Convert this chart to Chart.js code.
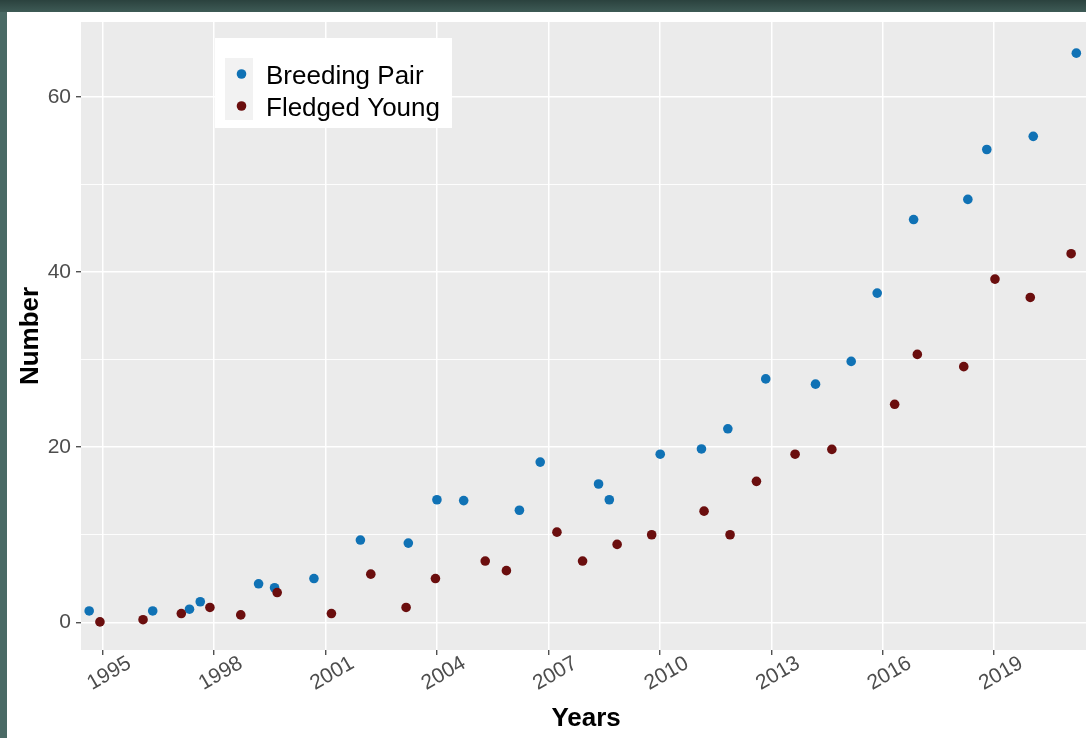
<!DOCTYPE html>
<html>
<head>
<meta charset="utf-8">
<script src="https://cdn.jsdelivr.net/npm/chart.js@4.4.1/dist/chart.umd.min.js"></script>
<style>
    html, body { margin: 0; padding: 0; }
    body { width: 1086px; height: 738px; overflow: hidden; background: #4a6a65; position: relative; }
    #topband { position: absolute; left: 0; top: 0; width: 1086px; height: 12px; background: linear-gradient(#2b423e, #3e5b56); }
    #panel { position: absolute; left: 7px; top: 12px; width: 1089px; height: 726px; background: #fff; }
</style>
</head>
<body>
<div id="topband"></div>
<div id="panel"><canvas id="birdChart" width="1089" height="726"></canvas></div>
<script>
// Breeding pairs (x = decimal year)
const breedingYears = [1994.64, 1996.35, 1997.34, 1997.63, 1999.20, 1999.63, 2000.69, 2001.94, 2003.23,
    2004.00, 2004.72, 2006.22, 2006.78, 2008.35, 2008.64, 2010.01, 2011.12, 2011.83, 2012.85,
    2014.19, 2015.15, 2015.85, 2016.83, 2018.29, 2018.80, 2020.05, 2021.21];
const breedingPairs = [1.3, 1.3, 1.5, 2.35, 4.4, 3.95, 5.0, 9.4, 9.05,
    14.0, 13.9, 12.8, 18.3, 15.8, 14.0, 19.2, 19.8, 22.1, 27.8,
    27.2, 29.8, 37.6, 46.0, 48.3, 54.0, 55.5, 65.0];

// Fledged young
const fledgedYears = [1994.93, 1996.09, 1997.12, 1997.89, 1998.72, 1999.70, 2001.16, 2002.22, 2003.17,
    2003.96, 2005.30, 2005.87, 2007.23, 2007.92, 2008.85, 2009.78, 2011.19, 2011.89, 2012.60,
    2013.64, 2014.63, 2016.32, 2016.93, 2018.18, 2019.02, 2019.97, 2021.07];
const fledgedYoung = [0.05, 0.3, 1.0, 1.7, 0.85, 3.4, 1.0, 5.5, 1.7,
    5.0, 7.0, 5.9, 10.3, 7.0, 8.9, 10.0, 12.7, 10.0, 16.1,
    19.2, 19.75, 24.9, 30.6, 29.2, 39.2, 37.1, 42.1];

const yearTicks = [1995, 1998, 2001, 2004, 2007, 2010, 2013, 2016, 2019];
const numberTicks = [0, 20, 40, 60];

const toPoints = (xs, ys) => xs.map((x, i) => ({ x: x, y: ys[i] }));

// gray ggplot-style panel behind the grid
const panelBg = {
    id: 'panelBg',
    beforeDraw(chart) {
        const { ctx, chartArea: a } = chart;
        ctx.save();
        ctx.fillStyle = '#ebebeb';
        ctx.fillRect(a.left, a.top, a.right - a.left, a.bottom - a.top);
        ctx.restore();
    }
};

// legend box inside the panel, top left
const insideLegend = {
    id: 'insideLegend',
    afterDraw(chart) {
        const ctx = chart.ctx;
        const sets = chart.data.datasets;
        ctx.save();
        ctx.fillStyle = '#ffffff';
        ctx.fillRect(208, 26, 237, 90);
        ctx.fillStyle = '#f2f2f2';
        ctx.fillRect(218, 46, 28, 62);
        ctx.font = '26px "Liberation Sans", Arial, sans-serif';
        ctx.textBaseline = 'middle';
        sets.forEach((ds, i) => {
            const y = 62 + i * 32;
            ctx.fillStyle = ds.backgroundColor;
            ctx.beginPath();
            ctx.arc(234.5, y, 4.8, 0, Math.PI * 2);
            ctx.fill();
            ctx.fillStyle = '#000000';
            ctx.fillText(ds.label, 259, y + 3);
        });
        ctx.restore();
    }
};

new Chart(document.getElementById('birdChart').getContext('2d'), {
    type: 'scatter',
    data: {
        datasets: [{
            label: 'Breeding Pair',
            data: toPoints(breedingYears, breedingPairs),
            backgroundColor: '#1072b5',
            pointRadius: 4.8,
            borderWidth: 0,
            order: 1
        }, {
            label: 'Fledged Young',
            data: toPoints(fledgedYears, fledgedYoung),
            backgroundColor: '#6b0e0e',
            pointRadius: 4.8,
            borderWidth: 0,
            order: 0
        }]
    },
    options: {
        responsive: false,
        devicePixelRatio: 1,
        animation: false,
        events: [],
        layout: { padding: { top: 10, right: 0, left: 0, bottom: 0 } },
        plugins: {
            legend: { display: false },
            tooltip: { enabled: false }
        },
        scales: {
            x: {
                type: 'linear',
                min: 1994.42,
                max: 2021.61,
                afterFit: s => { s.height = 88; s.paddingLeft = 0; s.paddingRight = 0; },
                afterBuildTicks: s => { s.ticks = yearTicks.map(v => ({ value: v })); },
                border: { display: false },
                grid: { color: '#ffffff', lineWidth: 1.5, tickColor: '#333333', tickLength: 5, tickWidth: 1.2 },
                ticks: {
                    autoSkip: false,
                    maxRotation: 30,
                    minRotation: 30,
                    labelOffset: 27,
                    padding: -4,
                    color: '#4d4d4d',
                    font: { family: '"Liberation Sans", Arial, sans-serif', size: 21 },
                    callback: v => String(v)
                },
                title: {
                    display: true,
                    text: 'Years',
                    color: '#000000',
                    font: { family: '"Liberation Sans", Arial, sans-serif', size: 26, weight: 'bold' },
                    padding: { top: 0, bottom: 4 }
                }
            },
            y: {
                min: -3.16,
                max: 68.56,
                afterFit: s => { s.width = 74; s.paddingTop = 0; s.paddingBottom = 0; },
                afterBuildTicks: s => {
                    // major ticks plus the minor lines halfway between them
                    const t = [];
                    numberTicks.forEach(v => { t.push({ value: v }); t.push({ value: v + 10, minor: true }); });
                    s.ticks = t;
                },
                border: { display: false },
                grid: {
                    color: '#ffffff',
                    lineWidth: c => (c.tick && c.tick.minor ? 0.9 : 1.5),
                    tickColor: c => (c.tick && c.tick.minor ? 'rgba(0,0,0,0)' : '#333333'),
                    tickLength: 5,
                    tickWidth: 1.2
                },
                ticks: {
                    padding: 5,
                    color: '#4d4d4d',
                    font: { family: '"Liberation Sans", Arial, sans-serif', size: 21 },
                    callback: (v, i, t) => (t[i].minor ? '' : String(v))
                },
                title: {
                    display: true,
                    text: 'Number',
                    color: '#000000',
                    font: { family: '"Liberation Sans", Arial, sans-serif', size: 26, weight: 'bold' },
                    padding: { top: 8, bottom: 0 }
                }
            }
        }
    },
    plugins: [panelBg, insideLegend]
});
</script>
</body>
</html>
